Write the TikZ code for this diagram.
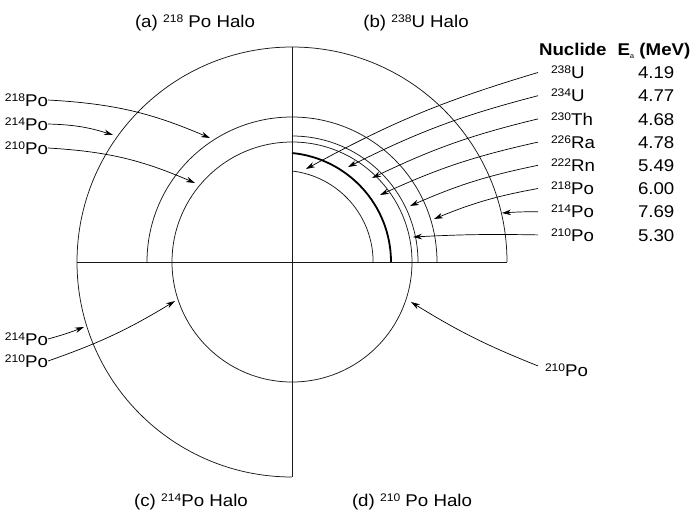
\documentclass[tikz,border=0pt]{standalone}
\usepackage{fontspec}
\setmainfont{Liberation Sans}[FakeStretch=1.1]
\usetikzlibrary{arrows.meta}
\newcommand\nuc[2]{\raisebox{5pt}{\fontsize{11}{12}\selectfont #1}#2}
\begin{document}
\begin{tikzpicture}[x=1pt,y=1pt,
  ln/.style={line width=0.75pt, black!90},
  thk/.style={line width=1.8pt},
  lbl/.style={font=\fontsize{17}{19}\selectfont, inner sep=0pt, outer sep=0pt, text height=12.2pt, text depth=0pt},
  hdr/.style={lbl, anchor=west, font=\fontsize{17}{19}\selectfont\bfseries},
  ll/.style={lbl, anchor=east},
  rl/.style={lbl, anchor=west, inner xsep=13pt},
  val/.style={lbl, anchor=west},
  conn/.style={-{Stealth[length=9pt,width=5.5pt]}, line width=0.7pt}]
\useasboundingbox (0,0) rectangle (694,-512);
% axes and arcs
\coordinate (O) at (292,-262);
\coordinate (vt) at (292,-47);
\coordinate (vb) at (292,-477);
\coordinate (hl) at (77,-262);
\coordinate (hr) at (507,-262);
\draw[ln] (vt) -- (vb);
\draw[ln] (hl) -- (hr);
\draw[ln] (hr) arc[start angle=0,end angle=270,radius=215pt];
\draw[ln] (O) circle[radius=120pt];
\draw[ln] (437,-262) arc[start angle=0,end angle=180,radius=145pt];
\draw[ln] (418,-262) arc[start angle=0,end angle=90,radius=126pt];
\draw[thk] (391,-262) arc[start angle=0,end angle=84.5,radius=109.5pt];
\draw[ln] (373.1,-262) arc[start angle=0,end angle=83.4,radius=91.6pt];
% titles
\node[lbl] (tA) at (195,-21) {(a) \nuc{218}{} Po Halo};
\node[lbl] (tB) at (416,-21) {(b) \nuc{238}{U} Halo};
\node[lbl] (tC) at (191,-500) {(c) \nuc{214}{Po} Halo};
\node[lbl] (tD) at (412,-500) {(d) \nuc{210}{} Po Halo};
% table header
\node[hdr] (hN) at (539,-49) {Nuclide};
\node[hdr] (hE) at (617.5,-49) {E\raisebox{-3pt}{\fontsize{7}{7}\selectfont\mdseries a} (MeV)};
% right labels
\node[rl] (b238) at (538,-72.5) {\nuc{238}{U}};
\node[rl] (b234) at (538,-95.7) {\nuc{234}{U}};
\node[rl] (b230) at (538,-118.9) {\nuc{230}{Th}};
\node[rl] (b226) at (538,-142.1) {\nuc{226}{Ra}};
\node[rl] (b222) at (538,-165.3) {\nuc{222}{Rn}};
\node[rl] (b218) at (538,-188.5) {\nuc{218}{Po}};
\node[rl] (b214) at (538,-211.7) {\nuc{214}{Po}};
\node[rl] (b210) at (538,-234.9) {\nuc{210}{Po}};
\node[val] (v1) at (638,-72.5) {4.19};
\node[val] (v2) at (638,-95.7) {4.77};
\node[val] (v3) at (638,-118.9) {4.68};
\node[val] (v4) at (638,-142.1) {4.78};
\node[val] (v5) at (638,-165.3) {5.49};
\node[val] (v6) at (638,-188.5) {6.00};
\node[val] (v7) at (638,-211.7) {7.69};
\node[val] (v8) at (638,-234.9) {5.30};
% right arrow tips
\coordinate (tb1) at (306,-169);
\coordinate (tb2) at (348,-167);
\coordinate (tb3) at (372,-178);
\coordinate (tb4) at (380,-195);
\coordinate (tb5) at (410,-206);
\coordinate (tb6) at (434,-219);
\coordinate (tb7) at (502,-213);
\coordinate (tb8) at (413,-237);
\draw[conn] (b238.west) to[bend right=6] (tb1);
\draw[conn] (b234.west) to[bend right=6] (tb2);
\draw[conn] (b230.west) to[bend right=6] (tb3);
\draw[conn] (b226.west) to[bend right=6] (tb4);
\draw[conn] (b222.west) to[bend right=6] (tb5);
\draw[conn] (b218.west) to[bend right=6] (tb6);
\draw[conn] (b214.west) to[bend right=2] (tb7);
\draw[conn] (b210.west) to[bend right=2] (tb8);
% quadrant (a) labels
\node[ll] (a218) at (48,-100) {\nuc{218}{Po}};
\node[ll] (a214) at (48,-124) {\nuc{214}{Po}};
\node[ll] (a210) at (48,-148) {\nuc{210}{Po}};
\coordinate (ta1) at (210,-138);
\coordinate (ta2) at (113,-135);
\coordinate (ta3) at (195,-183);
\draw[conn] (a218.east) to[bend left=10] (ta1);
\draw[conn] (a214.east) to[bend left=8] (ta2);
\draw[conn] (a210.east) to[bend left=10] (ta3);
% quadrant (c) labels
\node[ll] (c214) at (48,-339) {\nuc{214}{Po}};
\node[ll] (c210) at (48,-361) {\nuc{210}{Po}};
\coordinate (tc1) at (84,-327);
\coordinate (tc2) at (175,-301);
\draw[conn] (c214.east) to[bend right=3] (tc1);
\draw[conn] (c210.east) to[bend right=6] (tc2);
% quadrant (d) label
\node[lbl, anchor=west, inner xsep=7pt] (d210) at (538,-370) {\nuc{210}{Po}};
\coordinate (td) at (411,-302);
\draw[conn] ([yshift=-2pt]d210.north west) to[bend left=5] (td);
\end{tikzpicture}
\end{document}
